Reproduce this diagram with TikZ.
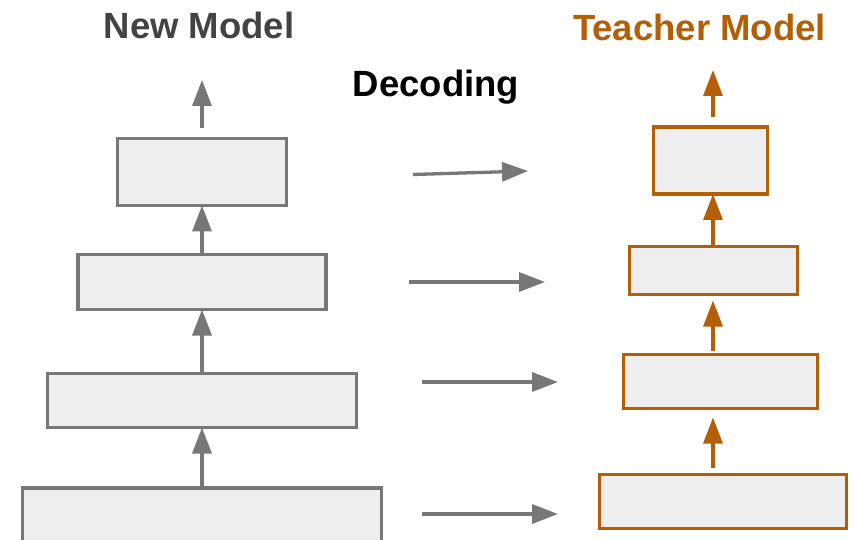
\documentclass[tikz,border=0pt]{standalone}
\usepackage{fontspec}
\setmainfont{Liberation Sans}
\usetikzlibrary{arrows.meta}
\definecolor{strokegray}{HTML}{777777}
\definecolor{labelgray}{HTML}{434343}
\definecolor{boxfill}{HTML}{EEEEEE}
\definecolor{teacher}{HTML}{B45F06}
\tikzset{
  layer/.style={draw=strokegray, fill=boxfill, line width=3.3pt, rectangle, inner sep=0pt, outer sep=0pt},
  tlayer/.style={layer, draw=teacher},
  flow/.style={line width=3.3pt, draw=strokegray, -{Triangle[length=26pt,width=19pt]}},
  tflow/.style={flow, draw=teacher, -{Triangle[length=26pt,width=19pt, fill=teacher]}},
  title/.style={font=\bfseries\fontsize{36.5}{40}\selectfont, anchor=base, inner sep=0pt},
}
\begin{document}
\begin{tikzpicture}[x=1pt, y=-1pt]
\useasboundingbox (0,0) rectangle (854,540);
\clip (0,0) rectangle (854,540);

% titles
\node[title, text=labelgray] (newt) at (199,38.3) {New Model};
\node[title, text=teacher] (teat) at (699.5,40.5) {Teacher Model};
\node[title, text=black] (dec) at (436,97) {Decoding};

% new model stack
\node[layer, minimum width=169pt, minimum height=67pt] (n1) at (202,172) {};
\node[layer, minimum width=248pt, minimum height=55pt] (n2) at (202,282) {};
\node[layer, minimum width=309pt, minimum height=54pt] (n3) at (202,400.5) {};
\node[layer, minimum width=359pt, minimum height=58pt] (n4) at (202,517) {};
\coordinate (nout) at (202,80);

\draw[flow, shorten <=10pt] (n1.north) -- (nout);
\draw[flow] (n2.north) -- (n1.south);
\draw[flow] (n3.north) -- (n2.south);
\draw[flow] (n4.north) -- (n3.south);

% teacher model stack
\node[tlayer, minimum width=114pt, minimum height=67pt] (t1) at (710.5,160.5) {};
\node[tlayer, minimum width=168pt, minimum height=48pt] (t2) at (713.5,270.5) {};
\node[tlayer, minimum width=194pt, minimum height=54pt] (t3) at (720.5,381.5) {};
\node[tlayer, minimum width=247pt, minimum height=54pt] (t4) at (723,501.5) {};
\coordinate (tout) at (713,70);

\draw[tflow, shorten <=10pt] (t1.north -| tout) -- (tout);
\draw[tflow] (t2.north -| tout) -- (t1.south -| tout);
\draw[tflow, shorten <=4pt, shorten >=6pt] (t3.north -| tout) -- (t2.south -| tout);
\draw[tflow, shorten <=7pt, shorten >=9pt] (t4.north -| tout) -- (t3.south -| tout);

% decoding arrows between the stacks
\coordinate (d1s) at (413,174.5); \coordinate (d1e) at (528,171);
\coordinate (d2s) at (409,282);   \coordinate (d2e) at (545,282);
\coordinate (d3s) at (422,382);   \coordinate (d3e) at (558,382);
\coordinate (d4s) at (422,514);   \coordinate (d4e) at (558,514);
\draw[flow] (d1s) -- (d1e);
\draw[flow] (d2s) -- (d2e);
\draw[flow] (d3s) -- (d3e);
\draw[flow] (d4s) -- (d4e);
\end{tikzpicture}
\end{document}
